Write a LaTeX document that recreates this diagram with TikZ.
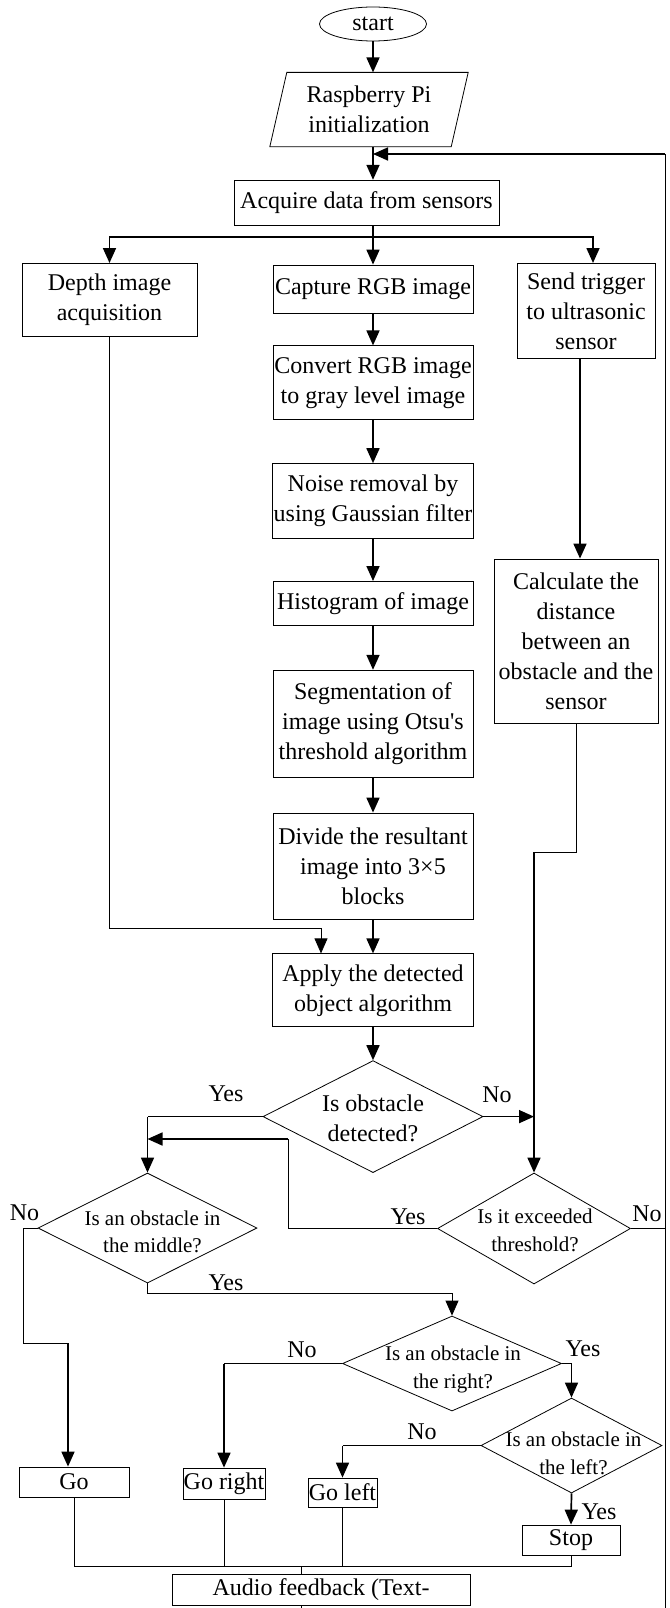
\documentclass[tikz,border=0pt]{standalone}
\usepackage{fontspec}
\setmainfont{Liberation Serif}
\usepackage{tikz}
\usetikzlibrary{arrows.meta,positioning,shapes.geometric}
\newcommand{\mainsize}{\fontsize{24}{30}\selectfont}
\newcommand{\qsize}{\fontsize{21}{27.5}\selectfont}
\tikzset{
    %Define standard arrow tip
    >={Triangle[length=15pt,width=13pt]},
    %Define style for boxes
    process/.style={
           rectangle,
           draw=black, line width=0.8pt,
           inner sep=0pt,
           font=\mainsize,
           align=center},
    terminal/.style={
           ellipse,
           draw=black, line width=0.8pt,
           inner sep=0pt,
           minimum width=107pt,
           minimum height=34pt,
           font=\mainsize},
    inout/.style={
           rectangle,
           inner sep=0pt,
           minimum width=181pt,
           minimum height=74pt,
           font=\mainsize,
           align=center},
    decision/.style={
           diamond,
           draw=black, line width=0.8pt,
           inner sep=0pt},
    question/.style={
           inner sep=0pt,
           font=\qsize,
           align=center},
    answer/.style={
           inner sep=0pt,
           font=\mainsize},
    % Define arrow style
    pil/.style={
           ->,
           line width=1.7pt},
    wire/.style={
           line width=0.8pt},
    wirepil/.style={
           ->,
           line width=0.8pt}
}

\begin{document}
\begin{tikzpicture}[x=1pt,y=-1pt]
\useasboundingbox (0,0) rectangle (669,1608);
 %main column
\node[terminal](1) at (373,24){start};
\node[inout, below=31pt of 1, xshift=-4pt](2){Raspberry Pi\\initialization};
\draw[wire] ([xshift=8.5pt]2.north west) -- ([xshift=8.5pt]2.north east)
   -- ([xshift=-8.5pt]2.south east) -- ([xshift=-8.5pt]2.south west) -- cycle;
\node[process, below=33pt of 2, xshift=-2.5pt, minimum width=265pt, minimum height=45pt](3){Acquire data from sensors};
\node[process, below=39pt of 3, xshift=6.5pt, minimum width=200pt, minimum height=48pt](5){Capture RGB image};
\node[process, below=32pt of 5, minimum width=200pt, minimum height=74pt](7){Convert RGB image\\to gray level image};
\node[process, below=43pt of 7, minimum width=201pt, minimum height=75pt](8){Noise removal by\\using Gaussian filter};
\node[process, below=42pt of 8, minimum width=200pt, minimum height=44pt](9){Histogram of image};
\node[process, below=44pt of 9, minimum width=200pt, minimum height=107pt](11){Segmentation of\\image using Otsu\textquotesingle s\\threshold algorithm};
\node[process, below=35pt of 11, minimum width=200pt, minimum height=106pt](12){Divide the resultant\\image into 3×5\\blocks};
\node[process, below=34pt of 12, minimum width=201pt, minimum height=73pt](13){Apply the detected\\object algorithm};
\node[decision, below=33pt of 13, minimum width=220pt, minimum height=112pt](14){};
\node[answer, font=\mainsize, align=center](14t) at ([shift={(0,2)}]14){Is obstacle\\detected?};
 %side branches
\node[process, anchor=north, minimum width=175pt, minimum height=73pt](4) at (109.5,263){Depth image\\acquisition};
\node[process, anchor=north, minimum width=138pt, minimum height=95pt](6) at (586,263){Send trigger\\to ultrasonic\\sensor};
\node[process, minimum width=164pt, minimum height=164pt](10) at (576,641){Calculate the\\distance\\between an\\obstacle and the\\sensor};
 %decisions
\node[decision, minimum width=219pt, minimum height=110pt](15) at (147.5,1228){};
\node[question](15t) at ([shift={(5,4)}]15){Is an obstacle in\\the middle?};
\node[decision, minimum width=193pt, minimum height=111pt](16) at (534,1228.5){};
\node[question](16t) at ([shift={(1,2)}]16){Is it exceeded\\threshold?};
\node[decision, minimum width=219pt, minimum height=95pt](17) at (452,1363.5){};
\node[question](17t) at ([shift={(1,6)}]17){Is an obstacle in\\the right?};
\node[decision, minimum width=181pt, minimum height=95pt](18) at (571.5,1445.5){};
\node[question](18t) at ([shift={(2,8)}]18){Is an obstacle in\\the left?};
 %outputs
\node[process, minimum width=110pt, minimum height=30pt](19) at (74,1482){Go};
\node[process, minimum width=82pt, minimum height=31pt](20) at (224,1483.5){Go right};
\node[process, minimum width=69pt, minimum height=29pt](21) at (342.5,1492.5){Go left};
\node[process, minimum width=98pt, minimum height=30pt](22) at (571,1540){Stop};
\node[process, minimum width=298pt, minimum height=31pt](23) at (321,1589.5){Audio feedback (Text-};
 %answers
\node[answer](14y) at (226,1094){Yes};
\node[answer](14n) at (497,1095){No};
\node[answer](16y) at (408,1217){Yes};
\node[answer](16n) at (647,1214){No};
\node[answer](15n) at (24.5,1213){No};
\node[answer](15y) at (226,1283){Yes};
\node[answer](17n) at (302,1350){No};
\node[answer](17y) at (583,1349){Yes};
\node[answer](18n) at (422,1432){No};
\node[answer](18y) at (599,1512){Yes};
 %corners
\coordinate (s) at (373,237);
\coordinate (c1) at (665,154);
\coordinate (c2) at (373,154);
\coordinate (c3) at (665,1608);
\coordinate (d1) at (321,928);
\coordinate (t1) at (534,852);
\coordinate (y2) at (288,1139);
\coordinate (n1) at (23.5,1343);
\coordinate (n2) at (68,1343);
\coordinate (y3) at (452,1293);
\coordinate (b) at (301,1566);
 %connectors
\draw[pil] (1.south) -- (1.south |- 2.north);
\draw[pil] (2.south -| 1.south) -- (1.south |- 3.north);
\draw[wire] (c3) -- (c1);
\draw[pil] (c1) -- (c2);
\draw[pil] (3.south -| s) -- (s) -- (5.north);
\draw[pil] (s) -| (4.north);
\draw[pil] (s) -| ([xshift=7pt]6.north);
\path[pil]
   (5) edge (7)
   (7) edge (8)
   (8) edge (9)
   (9) edge (11)
   (11) edge (12)
   (12) edge (13)
   (13) edge (14);
\draw[pil] ([xshift=-6pt]6.south) -- ([xshift=-6pt]6.south |- 10.north);
\draw[wirepil] (4.south) |- (d1) -- (d1 |- 13.north);
\draw[wire] (10.south) |- (t1);
\draw[pil] (t1) -- (16.north);
\draw[pil] (14.east) -- (14.east -| t1);
\draw[wire] (14.west) -- (14.west -| 15.north);
\draw[pil] (14.west -| 15.north) -- (15.north);
\draw[wire] (16.west) -| (y2);
\draw[pil] (y2) -- (y2 -| 15.north);
\draw[wire] (16.east) -- (16.east -| c1);
\draw[wire] (15.west) -| (n1) -- (n2);
\draw[pil] (n2) -- (n2 |- 19.north);
\draw[wirepil] (15.south) |- (y3) -- (17.north);
\draw[wire] (17.west) -- (17.west -| 20.north);
\draw[pil] (17.west -| 20.north) -- (20.north);
\draw[wire] (17.east) -- (17.east -| 18.north);
\draw[pil] (17.east -| 18.north) -- (18.north);
\draw[wire] (18.west) -- (18.west -| 21.north);
\draw[pil] (18.west -| 21.north) -- (21.north);
\draw[pil] (18.south) -- (22.north);
\draw[wire] (19.south) |- (b) -| (22.south);
\draw[wire] (20.south) -- (20.south |- b);
\draw[wire] (21.south) -- (21.south |- b);
\draw[wire] (b) -- (b |- 23.north);
\draw[wire] (b |- 23.south) -- (b |- c3);
\end{tikzpicture}
\end{document}
